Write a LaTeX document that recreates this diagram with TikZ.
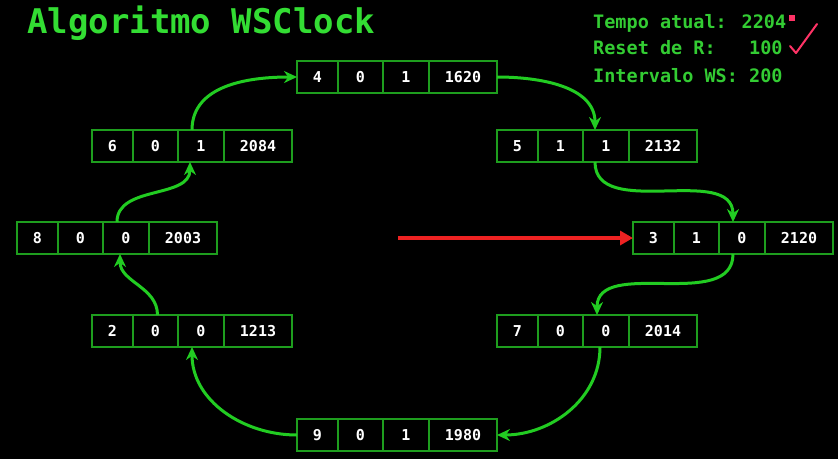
\documentclass[tikz,border=0pt]{standalone}
\usepackage{fontspec}
\usetikzlibrary{arrows.meta}
\newfontfamily\mono{DejaVu Sans Mono}
\definecolor{boxgreen}{HTML}{1E9E1E}
\definecolor{flowgreen}{HTML}{22CC22}
\definecolor{titlegreen}{HTML}{33DD33}
\definecolor{infogreen}{HTML}{33CC33}
\definecolor{redarrow}{HTML}{EE2222}
\definecolor{pinkmark}{HTML}{FF3366}
\tikzset{
  cell/.style={draw=boxgreen, line width=1.5pt, fill=black, text=white,
    minimum height=32pt, inner sep=0pt, outer sep=0pt,
    font=\mono\bfseries\fontsize{15}{15}\selectfont},
  cellA/.style={cell, minimum width=41pt},
  cellB/.style={cell, minimum width=45pt},
  cellC/.style={cell, minimum width=46pt},
  cellD/.style={cell, minimum width=68pt},
  flow/.style={draw=flowgreen, line width=3pt, -{Stealth[length=13pt,width=12pt]}},
  pointer/.style={draw=redarrow, line width=4pt, -{Triangle[length=13pt,width=14pt]}},
  titletext/.style={text=titlegreen, anchor=base west, inner sep=0pt,
    font=\mono\bfseries\fontsize{34}{34}\selectfont},
  infotext/.style={text=infogreen, anchor=base west, inner sep=0pt,
    font=\mono\bfseries\fontsize{18.5}{18.5}\selectfont}
}
\newcommand{\wsrec}[6]{%
  \node[cellA, anchor=west] (#1a) at (#2) {#3};
  \node[cellB, anchor=west] (#1b) at (#1a.east) {#4};
  \node[cellC, anchor=west] (#1c) at (#1b.east) {#5};
  \node[cellD, anchor=west] (#1d) at (#1c.east) {#6};
}
\begin{document}
\begin{tikzpicture}[x=1pt,y=-1pt]
\fill[black] (0,0) rectangle (838,459);
\useasboundingbox (0,0) rectangle (838,459);

\node[titletext] (title) at (27,33) {Algoritmo WSClock};
\node[infotext] (info1) at (593,28) {Tempo atual: 2204};
\node[infotext] (info2) at (593,54) {Reset\ de\ R:\ \ \ 100};
\node[infotext] (info3) at (593,82) {Intervalo\ WS:\ 200};

% pink hand annotations
\fill[pinkmark] (789,15) rectangle (795,21);
\draw[pinkmark, line width=2pt, line cap=round, line join=round] (790,46) -- (796,53) -- (817,24);

\wsrec{rq}{297,77}{4}{0}{1}{1620}
\wsrec{rs}{92,146}{6}{0}{1}{2084}
\wsrec{rf}{497,146}{5}{1}{1}{2132}
\wsrec{re}{17,238}{8}{0}{0}{2003}
\wsrec{rt}{633,238}{3}{1}{0}{2120}
\wsrec{rd}{92,331}{2}{0}{0}{1213}
\wsrec{rv}{497,331}{7}{0}{0}{2014}
\wsrec{rn}{297,435}{9}{0}{1}{1980}

\coordinate (redstart) at (398,238);
\draw[pointer] (redstart) -- (rta.west);

\draw[flow] ([xshift=-9pt]rsc.north) to[out=90,in=180] (rqa.west);
\draw[flow] (rqd.east) to[out=0,in=90] ([xshift=-11pt]rfc.north);
\draw[flow] ([xshift=-11pt]rfc.south) to[out=-90,in=90] ([xshift=-9pt]rtc.north);
\draw[flow] ([xshift=-9pt]rtc.south) to[out=-90,in=90] ([xshift=-9pt]rvc.north);
\draw[flow] ([xshift=-6pt]rvc.south) to[out=-90,in=0] (rnd.east);
\draw[flow] (rna.west) to[out=180,in=-90] ([xshift=-9pt]rdc.south);
\draw[flow] ([xshift=2pt]rdb.north) to[out=90,in=-90] ([xshift=-6pt]rec.south);
\draw[flow] ([xshift=-9pt]rec.north) to[out=90,in=-90] ([xshift=-11pt]rsc.south);
\end{tikzpicture}
\end{document}
